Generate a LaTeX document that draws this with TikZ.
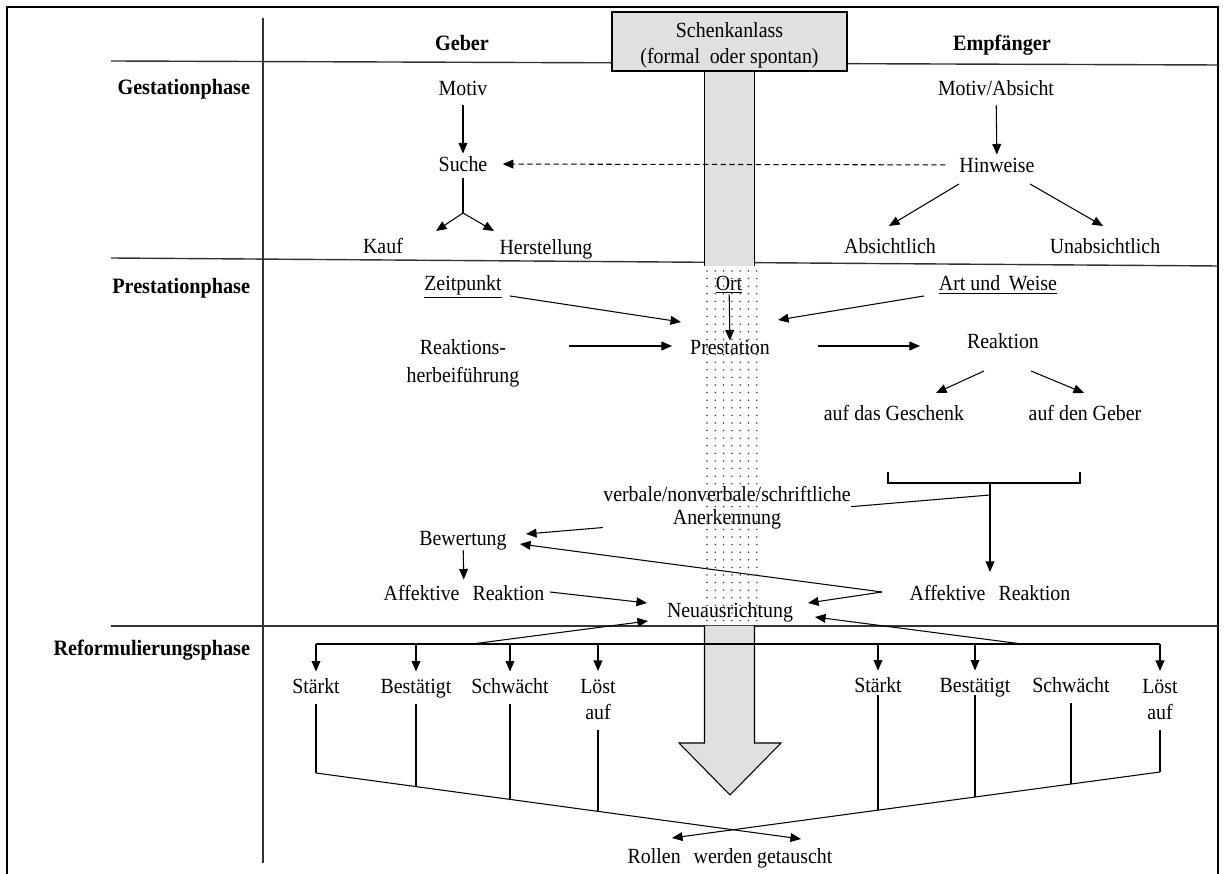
\documentclass[tikz,border=0pt]{standalone}
\usepackage{fontspec}
\setmainfont{Liberation Serif}[FakeStretch=0.92]
\usetikzlibrary{arrows.meta}
\begin{document}
\begin{tikzpicture}[x=0.02cm, y=-0.02cm,
  every node/.style={font=\fontsize{12.3}{14}\selectfont},
  lbl/.style={inner xsep=1.5pt, inner ysep=0pt, text height=9.8pt, text depth=1.7pt},
  multi/.style={align=center, inner sep=0pt},
  phase/.style={lbl, anchor=east, font=\fontsize{12.5}{14}\selectfont\bfseries},
  head/.style={lbl, font=\fontsize{12.5}{14}\selectfont\bfseries},
  conn/.style={line width=0.6pt},
  arr/.style={conn, -{Triangle[length=6pt,width=5pt]}},
  dashpat/.style={dash pattern=on 3pt off 2pt},
  rule/.style={line width=0.8pt, black!80},
  grayfill/.style={fill=black!12},
  dot/.style={fill=black!75},
]
\useasboundingbox (0,0) rectangle (1225,874);

% outer frame and table rules
\draw[line width=1pt] (7,874) -- (7,7) -- (1218,7) -- (1218,874);
\draw[rule] (263,18) -- (263,863);
\draw[rule] (111,61) -- (1218,65);
\draw[rule] (111,258) -- (1218,266);
\draw[rule] (111,626) -- (1218,626);

% upper part of the central arrow
\fill[grayfill] (704.5,71) rectangle (754.5,266);
\draw[conn] (704.5,71) -- (704.5,266) (754.5,71) -- (754.5,266);
\draw[conn, grayfill] (612,12) rectangle (847,71);
\node[multi, font=\fontsize{12.3}{14.7}\selectfont] (anlass) at (729.5,45)
  {Schenkanlass\\(formal\hspace{0.45em}oder spontan)};

% lower part of the central arrow
\filldraw[conn, grayfill] (704.5,626) -- (704.5,743) -- (679,743) -- (730,795)
  -- (781,743) -- (754.5,743) -- (754.5,626);

% line from the bracket to "Bewertung" (runs behind the Anerkennung label)
\coordinate (brOut) at (990,495);
\coordinate (bewertTipA) at (526,534);
\draw[arr] (brOut) -- (bewertTipA);

% column and row headings
\node[head] (geber) at (462,43) {Geber};
\node[head] (empf) at (1002,43) {Empfänger};
\node[phase] (gest) at (253,87) {Gestationphase};
\node[phase] (prestph) at (253,286) {Prestationphase};
\node[phase] (reform) at (253,648) {Reformulierungsphase};

% Gestationphase
\node[lbl] (motivG) at (463,88) {Motiv};
\node[lbl] (sucheG) at (463,164) {Suche};
\node[lbl] (kauf) at (383,246) {Kauf};
\node[lbl] (herst) at (546,247) {Herstellung};
\node[lbl] (motivE) at (996,88) {Motiv/Absicht};
\node[lbl] (hinw) at (997,165) {Hinweise};
\node[lbl] (absi) at (890,246) {Absichtlich};
\node[lbl] (unabs) at (1105,246) {Unabsichtlich};

% Prestationphase
\node[lbl] (zeit) at (463,283) {\underline{Zeitpunkt}};
\node[lbl] (ort) at (729,283) {\underline{Ort}};
\node[lbl] (art) at (998,283) {\underline{Art und\hspace{0.4em}Weise}};
\node[lbl] (prest) at (730,347) {Prestation};
\node[multi, font=\fontsize{12.3}{15.9}\selectfont] (reakh) at (463,363) {Reaktions-\\herbeiführung};
\node[lbl] (reak) at (1003,341) {Reaktion};
\node[lbl] (geschenk) at (894,413) {auf das Geschenk};
\node[lbl] (gebern) at (1085,413) {auf den Geber};
\node[multi, fill=white, font=\fontsize{12.3}{13}\selectfont] (anerk) at (727,508)
  {verbale/nonverbale/schriftliche\\Anerkennung};
\node[lbl] (bewert) at (463,538) {Bewertung};
\node[lbl] (affL) at (464,593) {Affektive\hspace{0.6em}Reaktion};
\node[lbl] (affR) at (990,593) {Affektive\hspace{0.6em}Reaktion};
\node[lbl] (neu) at (730,610) {Neuausrichtung};

% Reformulierungsphase
\node[lbl] (sL1) at (316,686) {Stärkt};
\node[lbl] (sL2) at (416,686) {Bestätigt};
\node[lbl] (sL3) at (510,686) {Schwächt};
\node[multi, font=\fontsize{12.3}{15.3}\selectfont] (sL4) at (598,699.5) {Löst\\auf};
\node[lbl] (sR1) at (878,685) {Stärkt};
\node[lbl] (sR2) at (975,685) {Bestätigt};
\node[lbl] (sR3) at (1071,685) {Schwächt};
\node[multi, font=\fontsize{12.3}{15.3}\selectfont] (sR4) at (1160,699.5) {Löst\\auf};
\node[lbl] (rollen) at (730,856) {Rollen\hspace{0.6em}werden getauscht};

% --- connectors: Gestationphase
\draw[arr, shorten <=0.14cm] (motivG) -- (sucheG);
\draw[arr, dashpat, shorten <=0.22cm, shorten >=0.25cm] (hinw) -- (sucheG);
\coordinate (fork) at (463,213);
\coordinate (kaufTip) at (436,231);
\coordinate (herstTip) at (494,231);
\draw[conn, shorten <=0.08cm] (sucheG) -- (fork);
\draw[arr] (fork) -- (kaufTip);
\draw[arr] (fork) -- (herstTip);
\draw[arr, shorten <=0.14cm] (motivE) -- (hinw);
\coordinate (hinwL) at (959,184);
\coordinate (absiTip) at (889,226);
\coordinate (hinwR) at (1030,184);
\coordinate (unabsTip) at (1103,226);
\draw[arr] (hinwL) -- (absiTip);
\draw[arr] (hinwR) -- (unabsTip);

% --- connectors: Prestationphase
\coordinate (zeitOut) at (510,296);
\coordinate (prestNW) at (681,322);
\coordinate (artOut) at (924,296);
\coordinate (prestNE) at (778,320);
\coordinate (reakhOut) at (569,346);
\coordinate (prestW) at (672,346);
\coordinate (prestE) at (818,346);
\coordinate (reakW) at (920,346);
\draw[arr] (zeitOut) -- (prestNW);
\draw[arr, shorten <=0.02cm, shorten >=-0.08cm] (ort) -- (prest);
\draw[arr] (artOut) -- (prestNE);
\draw[arr] (reakhOut) -- (prestW);
\draw[arr] (prestE) -- (reakW);
\coordinate (reakL) at (984,371);
\coordinate (geschTip) at (936,393);
\coordinate (reakR) at (1031,371);
\coordinate (gebernTip) at (1084,393);
\draw[arr] (reakL) -- (geschTip);
\draw[arr] (reakR) -- (gebernTip);

% bracket joining both reactions
\coordinate (brL) at (888,472);
\coordinate (brR) at (1080,472);
\coordinate (brM) at (990,483);
\coordinate (affRTip) at (990,572);
\draw[conn] (brL) |- (brM) -| (brR);
\draw[arr] (brM) -- (affRTip);

\draw[arr, shorten <=0.04cm, shorten >=0.06cm] (bewert) -- (affL);
\coordinate (affLOut) at (550,592);
\coordinate (neuWa) at (647,603);
\draw[arr] (affLOut) -- (neuWa);
\coordinate (affROut) at (882,592);
\coordinate (bewertTipB) at (520,544);
\coordinate (neuEa) at (808,603);
\draw[arr] (affROut) -- (bewertTipB);
\draw[arr] (affROut) -- (neuEa);

% --- connectors: Reformulierungsphase
\coordinate (distL) at (316,644);
\coordinate (distR) at (1160,644);
\draw[conn] (distL) -- (distR);
\foreach \n in {sL1,sL2,sL3,sR1,sR2}
  \draw[arr, shorten >=0.08cm] (\n.north |- distL) -- (\n.north);
\foreach \n in {sL4,sR4}
  \draw[arr, shorten >=0.15cm] (\n.north |- distL) -- (\n.north);
\coordinate (distLUp) at (472,644);
\coordinate (neuWb) at (648,621);
\coordinate (distRUp) at (1022,644);
\coordinate (neuEb) at (815,617);
\draw[arr] (distLUp) -- (neuWb);
\draw[arr] (distRUp) -- (neuEb);

% outcome lines towards the role exchange
\coordinate (bL1) at (316,773);
\coordinate (bL2) at (416,786.6);
\coordinate (bL3) at (510,799.4);
\coordinate (bL4) at (598,811.4);
\coordinate (bR1) at (878,810.1);
\coordinate (bR2) at (975,797);
\coordinate (bR3) at (1071,784);
\coordinate (bR4) at (1160,772);
\coordinate (rollenTipR) at (801,839);
\coordinate (rollenTipL) at (672,838);
\draw[conn, shorten <=0.16cm] (sL1) -- (bL1);
\draw[conn, shorten <=0.16cm] (sL2) -- (bL2);
\draw[conn, shorten <=0.16cm] (sL3) -- (bL3);
\draw[conn, shorten <=0.2cm] (sL4) -- (bL4);
\draw[conn] (sR1) -- (bR1);
\draw[conn] (sR2) -- (bR2);
\draw[conn, shorten <=0.16cm] (sR3) -- (bR3);
\draw[conn, shorten <=0.2cm] (sR4) -- (bR4);
\draw[arr] (bL1) -- (rollenTipR);
\draw[arr] (bR4) -- (rollenTipL);

% dotted middle section of the central arrow
\foreach \i in {0,...,6}
  \foreach \j in {0,...,46}
    \fill[dot] ({707+8.3*\i},{271+7.6*\j}) circle[radius=0.5pt];
\end{tikzpicture}
\end{document}
